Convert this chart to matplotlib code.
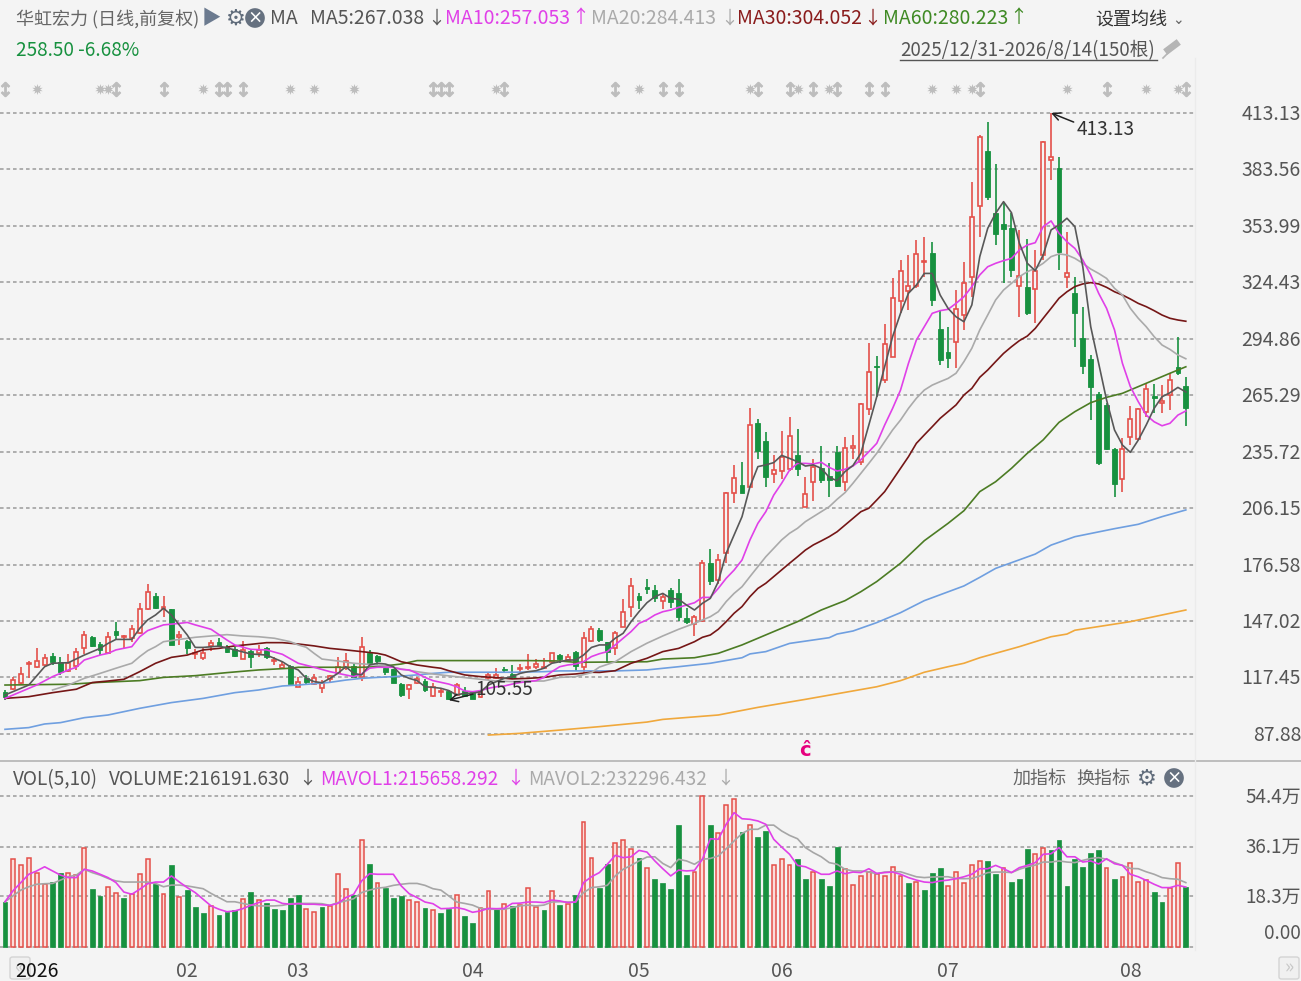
import numpy as np
import matplotlib
matplotlib.use('Agg')
import matplotlib.pyplot as plt
from matplotlib.patches import FancyBboxPatch
from matplotlib.lines import Line2D

FONT = ['Noto Sans CJK SC', 'DejaVu Sans']
plt.rcParams['font.family'] = FONT
plt.rcParams['axes.unicode_minus'] = False

W, H = 1301, 981
BG = '#f4f4f4'
RED = '#e4504a'
PINK = '#fbdcd8'
GREEN = '#17913f'

# daily candles, one value per bar (150 bars)
open_p = [110.0,111.3,114.4,124.5,122.8,124.0,128.9,125.7,121.0,123.5,133.1,138.8,135.0,130.5,142.0,138.5,138.0,140.9,153.3,160.1,
          153.2,153.2,138.8,136.6,129.8,127.5,134.0,136.2,133.6,132.6,127.3,131.5,130.1,132.7,126.1,122.4,123.7,112.7,117.4,114.1,
          111.8,116.5,119.6,122.3,123.5,117.9,130.1,128.7,122.3,121.7,113.9,111.3,114.4,115.8,107.8,110.0,110.6,108.3,110.6,109.7,
          107.1,117.0,117.0,121.7,119.3,121.9,122.3,122.8,122.6,125.7,129.4,126.6,131.0,123.1,136.8,142.3,136.2,132.7,144.1,154.2,
          160.1,164.7,163.3,157.5,163.3,161.9,148.4,145.3,147.2,177.6,168.5,182.5,213.9,218.1,217.4,250.6,241.2,224.2,225.8,226.5,
          234.0,207.0,219.9,227.0,223.0,235.6,220.0,237.7,230.5,257.9,280.6,273.3,285.5,314.8,320.1,322.5,335.1,340.0,299.8,288.1,
          293.4,307.3,327.1,364.6,393.4,360.6,354.8,352.7,322.5,321.8,320.8,338.8,388.5,384.1,327.4,319.0,295.1,284.3,265.9,260.2,
          237.1,221.3,243.6,242.2,256.7,264.9,261.4,265.4,279.9,270.1]
close_p = [107.1,116.1,119.1,124.9,126.3,127.8,125.7,120.5,125.2,131.0,139.5,134.0,131.9,138.8,139.9,139.2,142.7,153.5,162.2,153.7,
           154.6,134.5,139.5,132.7,130.5,130.5,135.7,134.1,130.6,128.7,131.9,128.4,131.9,128.0,126.6,124.0,114.1,115.3,115.3,117.0,
           114.4,118.3,122.8,126.3,117.9,133.3,125.2,126.3,120.5,114.8,108.3,113.5,116.5,110.9,112.3,110.6,106.0,113.5,107.8,106.4,
           110.0,118.8,118.8,121.4,117.5,122.4,122.8,124.5,123.1,130.1,127.1,128.4,123.5,138.0,142.7,137.1,131.0,140.6,151.6,165.6,
           158.1,163.8,158.9,159.8,157.2,149.3,146.7,149.3,177.6,168.2,179.0,214.3,222.1,214.3,249.7,236.1,222.7,226.1,232.8,244.1,
           226.7,213.4,227.5,220.9,220.9,217.8,237.7,238.5,260.7,277.6,279.9,292.0,316.2,330.4,322.5,339.1,335.8,315.2,283.8,284.6,
           310.3,324.3,358.8,400.7,369.0,349.8,352.4,330.9,327.9,308.5,330.5,398.1,389.9,340.1,329.5,308.2,280.8,269.8,229.6,237.1,
           218.8,237.0,252.7,257.9,268.4,263.7,262.3,273.3,276.8,258.5]
high_p = [110.9,117.5,123.1,126.1,132.7,129.8,130.1,128.4,129.6,132.7,142.0,139.2,136.2,141.3,146.7,139.5,145.0,156.3,166.4,161.5,
          160.1,153.2,142.0,137.1,132.2,133.3,137.1,138.3,134.5,133.3,136.4,131.9,134.5,133.3,128.0,125.7,124.0,117.5,118.8,119.1,
          116.1,118.8,128.4,130.1,124.5,138.8,131.9,129.2,123.1,121.7,114.8,113.9,117.9,116.5,114.4,111.3,110.9,114.4,112.7,110.0,
          110.6,120.5,122.3,123.1,124.0,124.5,129.6,127.0,127.8,130.5,129.6,129.6,131.5,141.3,144.4,143.2,136.2,142.0,158.6,169.8,
          161.5,168.9,165.7,161.5,164.3,168.9,154.0,150.2,179.0,184.8,182.3,214.6,228.6,230.3,258.4,253.0,245.9,234.0,246.8,253.7,
          247.4,222.3,231.7,238.9,229.6,238.9,243.6,244.5,261.4,292.8,285.8,302.6,326.9,336.1,338.8,346.6,348.0,345.7,309.9,300.9,
          320.4,335.3,377.2,401.6,408.6,386.4,366.7,360.6,351.9,347.0,341.4,398.6,413.13,389.9,351.0,327.4,311.3,286.4,267.2,261.1,
          237.5,242.7,259.7,258.4,271.5,271.2,270.7,277.1,295.6,275.0]
low_p = [105.7,110.9,114.0,117.0,122.3,123.5,124.0,118.8,120.5,121.4,129.8,133.6,129.2,129.8,137.1,132.7,136.2,140.2,152.8,153.2,
         149.0,134.5,134.5,129.8,127.3,126.6,131.5,133.3,130.1,128.0,127.1,122.3,128.0,127.3,124.0,122.1,114.1,112.3,114.1,113.5,
         109.2,115.3,119.3,121.4,117.5,115.8,124.5,124.0,118.8,114.8,107.4,106.0,114.1,110.0,107.1,107.1,105.55,107.8,107.1,106.0,
         106.7,116.1,116.5,120.0,116.8,120.5,121.4,121.7,122.3,125.2,125.2,126.1,121.0,119.3,136.2,136.2,124.9,129.2,143.7,149.3,
         153.2,161.2,157.2,153.3,154.0,147.2,145.5,139.2,146.7,165.9,166.4,177.6,209.0,213.9,217.1,231.8,217.1,219.2,221.3,225.8,
         223.2,206.6,209.7,219.5,212.2,217.4,215.3,231.9,228.8,254.9,264.6,271.9,285.2,308.2,309.9,321.3,327.4,312.0,281.1,279.7,
         279.7,299.5,316.9,348.4,367.6,344.0,323.9,327.4,306.5,307.3,303.3,336.1,378.0,330.9,321.3,290.7,276.4,252.3,228.8,236.6,
         212.2,214.8,239.2,241.9,254.1,255.8,255.8,257.5,275.9,249.2]

# moving averages at these bars
ma5_x = [0,3,5,6,8,10,12,13,14,16,17,18,19,20,21,22,23,24,25,27,29,31,33,35,36,37] + list(range(38, 150))
ma5 = [108.3,113.5,123.1,124.9,125.2,129.2,132.7,135.3,137.4,137.4,143.2,147.6,150.2,153.7,150.2,144.9,139.7,133.2,133.2,133.9,131.9,129.8,129.2,125.7,123.1,121.4,
       117.0,115.3,114.7,117.0,119.6,123.1,119.6,118.8,124.0,124.9,124.5,123.1,118.8,117.0,115.8,112.6,112.3,111.8,110.6,108.3,109.2,109.2,110.0,113.5,115.3,117.0,117.9,119.6,120.5,121.0,122.3,124.9,125.7,126.6,126.6,129.2,133.2,134.5,
       134.5,138.0,140.6,146.7,151.9,156.6,159.8,161.5,158.9,158.4,155.4,152.8,156.3,158.9,167.6,182.5,192.1,201.7,217.4,227.9,228.8,230.0,233.8,232.2,230.5,228.2,228.8,227.0,222.3,220.5,225.3,228.5,
       234.9,249.7,264.5,280.3,296.0,308.2,318.7,323.0,329.1,329.1,317.8,310.8,306.4,303.8,312.6,337.9,352.7,360.6,366.7,360.9,344.9,334.4,330.5,338.8,351.9,354.5,358.0,353.6,332.6,301.2,282.0,262.8,247.1,239.2,235.4,241.8,249.7,258.4,264.5,266.6,269.4,267.0]
ma10_x = [0,2,4,6,8,9,10,12,13,14,16,17,18,20,22,23,24,26,28,29,31,33,35,37,39,41,43] + list(range(44, 150))
ma10 = [106.5,110.0,113.5,117.9,121.4,122.8,126.6,129.2,130.1,131.9,133.6,138.8,142.0,145.0,145.8,146.3,145.0,142.7,137.1,134.5,132.2,131.9,129.6,124.9,122.8,120.5,118.8,
        117.9,119.3,122.3,122.8,122.8,122.8,121.7,121.4,119.6,117.5,115.8,114.9,114.0,112.6,110.4,110.0,110.6,111.8,112.6,113.0,114.0,114.8,115.3,115.8,117.5,120.5,123.1,124.0,124.5,125.7,128.4,129.9,
        131.0,134.5,138.0,141.5,145.8,147.6,150.2,151.9,152.8,154.2,155.4,156.6,159.4,159.4,164.1,169.4,173.7,179.0,189.5,198.2,204.3,213.0,219.2,226.1,229.6,229.6,229.3,230.2,227.5,225.6,226.5,228.2,
        231.5,235.7,240.1,249.7,258.4,268.0,282.0,294.2,301.2,308.2,309.6,310.3,313.4,316.9,322.2,328.3,332.6,334.4,335.8,337.0,341.4,344.0,345.2,353.6,356.6,350.1,345.7,342.2,336.1,328.3,318.7,310.8,299.5,282.0,269.8,261.9,254.9,251.4,249.3,250.6,254.9,257.05]
ma20_x = [6,8,10,12,14,16,17,18,19,20,22,24,26,28,30,32,34,36,37,38,39,40,42,44,46,48,50,52,54,56,58,60,62,64,66,68,70,72,74,75,77,79,81,83,85,87,89] + list(range(90, 150))
ma20 = [110.9,113.5,117.0,119.6,122.3,124.9,128.4,131.5,133.6,136.2,137.4,138.5,139.2,139.9,139.2,138.8,138.0,136.2,134.5,133.3,130.1,127.1,126.1,124.9,124.3,123.5,121.9,120.5,119.3,118.3,117.4,116.5,115.6,115.3,115.6,115.6,117.5,117.9,120.0,122.9,125.7,131.0,135.4,139.2,142.7,145.8,149.3,
        151.9,157.2,161.5,165.0,170.3,175.5,180.7,185.1,189.5,193.0,195.6,199.1,201.7,204.3,206.9,210.8,214.3,219.2,
        224.4,229.6,234.9,241.0,247.1,252.3,258.4,263.7,268.0,270.6,272.4,274.1,276.8,282.9,289.9,299.5,307.3,315.2,320.4,323.9,327.4,330.0,331.8,334.4,337.9,339.3,338.8,337.0,334.4,331.4,329.1,326.5,321.3,317.8,310.8,305.6,301.2,296.0,291.6,289.3,286.4,284.4]
ma30_x = [0,3,6,9,11,13,15,17,19,21,23,25,27,29,31,33,35,37,39,41,43,45,47,48,49,50,52,54,55,56,58,60,62,64,66,68,70,72,74,75,77,79,81,83,85,87] + list(range(88, 150))
ma30 = [106.5,107.4,109.5,111.3,114.8,115.6,116.5,120.5,124.9,128.0,129.2,131.9,132.7,134.0,134.8,135.7,135.7,135.0,134.0,132.7,131.9,131.0,130.1,129.2,127.5,125.7,124.0,122.8,122.3,121.0,118.8,117.9,117.4,116.7,117.0,117.5,118.8,119.3,120.2,120.1,121.0,124.9,127.5,131.0,132.7,136.2,
        138.5,139.7,142.7,146.7,151.1,154.6,159.8,164.1,166.8,170.3,173.8,177.3,180.7,184.2,186.9,189.0,191.2,193.8,197.3,200.8,204.3,
        206.1,210.4,214.8,220.9,227.0,233.1,240.1,244.5,248.8,253.2,256.7,260.2,265.4,268.9,274.7,278.5,282.9,287.2,290.7,293.9,296.3,300.3,305.6,310.8,316.1,319.5,322.2,323.6,324.3,323.6,321.8,319.5,317.8,315.7,313.4,311.7,309.6,307.3,305.6,304.7,304.05]
ma60_x = [0,8,12,17,20,24,28,32,36,37,41,45,47,50,52,56,61,66,70,72,81,83,87,90,93,95,97,100,103,106,108,110,113,116,119,121,123,125,127,129,131,133,135,137,139,141,143,145,147,149]
ma60 = [113.5,113.9,114.9,115.8,117.5,118.4,120.0,121.4,122.3,122.8,122.8,122.8,123.1,124.5,126.3,126.3,126.3,126.3,126.1,125.4,125.7,127.1,127.8,130.1,134.5,138.0,141.5,146.7,152.8,157.7,162.4,167.7,177.3,189.1,198.2,204.8,214.8,220.0,227.0,234.9,241.9,251.1,256.7,261.4,264.2,266.3,269.8,273.3,276.8,280.2]
ma120_x = [0,3,5,7,10,13,17,21,25,29,32,35,37,41,43,45,47,49,52,54,56,60,64,68,70,77,81,85,89,93,94,96,99,104,105,107,110,113,116,121,123,125,130,132,135,140,143,146,149]
ma120 = [90.3,91.2,93.1,93.8,96.4,97.8,101.3,104.3,106.5,109.5,110.9,113.0,113.5,114.9,116.1,117.0,117.5,117.9,118.8,119.6,120.2,120.2,120.2,120.5,120.9,120.9,121.4,123.1,124.9,127.8,129.8,131.0,135.3,138.3,140.2,141.8,146.2,151.4,157.7,165.4,169.9,174.6,182.1,186.8,191.2,195.4,197.7,201.7,205.2]
ma250_x = [61,65,70,75,81,83,90,95,101,110,113,116,119,121,123,128,132,134,135,142,149]
ma250 = [87.3,88.2,89.9,91.7,94.1,95.5,97.8,101.8,106.0,112.6,115.8,120.2,123.1,124.9,127.8,133.6,138.8,140.2,142.2,146.7,152.8]

# volume in units of 万
vol = [16.3,31.6,29.4,32.0,26.5,22.8,23.4,26.5,26.8,25.9,35.8,20.8,18.4,21.7,19.6,17.5,19.0,26.2,31.6,22.6,
       19.1,29.4,18.1,20.4,14.3,12.2,14.8,11.6,12.7,13.2,17.4,19.8,16.9,16.0,13.8,13.3,17.6,18.7,13.7,12.6,
       14.4,14.8,26.2,20.8,18.6,38.6,30.0,22.9,21.4,17.5,18.4,16.9,16.3,13.9,13.2,12.1,13.6,18.6,11.2,8.5,
       14.2,20.2,14.2,15.4,14.8,15.1,21.4,14.5,13.3,20.2,15.0,15.6,18.6,45.1,32.2,21.4,30.0,37.6,38.6,35.4,
       32.2,28.3,24.6,22.9,20.8,44.0,25.8,27.1,54.4,44.0,40.9,51.0,53.2,41.4,44.0,39.7,41.9,29.4,31.6,29.4,
       31.6,24.6,27.1,24.6,22.0,36.0,28.0,22.3,25.6,27.0,26.2,25.6,28.9,25.6,22.9,23.5,20.4,26.8,28.3,22.0,
       27.1,22.9,29.4,31.0,31.1,26.4,28.3,23.5,24.6,35.4,33.6,35.8,34.8,38.6,21.8,31.6,28.9,33.7,34.8,28.3,
       24.6,25.1,30.4,23.5,24.0,19.7,16.3,21.4,30.4,21.6]
vol_dir = ('grrrrrggrr' 'rggrrgrrrg' 'rgrgggrggg' 'rgrgggggrr' 'grrrgrgrgg'
           'grrgrggrgg' 'rrgrgrrrgr' 'grgrrggrrr' 'grgggggrrg' 'rrrgrggrrr'
           'ggrgggrrrr' 'rrrrgrgggr' 'rrrrggrggg' 'rrgggggggr' 'grrrrggrrg')
mavol1 = [16.3,20.2,23.2,26.2,27.4,28.9,27.4,25.9,25.0,25.0,28.0,27.4,26.2,25.0,23.2,19.8,19.0,20.8,22.8,23.4,
          23.4,25.6,23.4,21.4,19.6,17.2,14.8,13.6,12.7,13.0,13.8,15.0,16.0,16.9,16.9,15.7,15.4,15.6,15.4,15.4,
          15.2,15.0,15.7,17.8,19.0,23.8,26.4,26.2,26.2,26.2,22.0,19.2,17.8,16.2,15.6,13.8,13.9,14.2,13.6,12.5,
          13.0,13.9,13.8,13.9,15.7,15.8,16.2,16.2,16.0,16.9,16.6,16.0,16.2,23.2,25.3,26.8,
          29.8,33.0,32.2,32.5,34.8,34.2,31.0,28.2,25.6,27.7,27.4,27.6,31.6,39.0,38.8,44.2,48.4,46.2,46.0,45.4,
          44.2,38.8,36.0,33.4,29.4,28.9,27.6,26.2,26.2,27.4,26.4,27.0,26.8,28.2,26.5,26.8,27.0,26.2,25.0,24.1,
          23.4,23.2,23.8,24.1,24.6,25.3,26.2,28.2,28.2,29.4,28.2,26.8,28.6,29.4,30.4,33.4,33.6,35.8,32.5,32.5,
          30.6,31.0,29.9,31.8,30.0,29.4,26.2,25.3,24.0,22.6,21.4,21.4,22.2,21.6]
mavol2 = [16.3,18.4,20.5,21.7,22.6,22.8,22.9,24.1,25.3,25.9,28.0,26.8,25.9,24.7,23.8,23.4,23.4,23.4,23.4,22.9,
          21.7,22.3,22.3,22.0,21.5,21.0,19.3,17.8,16.3,16.3,15.7,15.1,14.8,14.8,14.8,15.0,15.6,15.7,15.7,15.7,
          15.6,15.0,16.0,16.6,17.4,19.6,20.5,21.2,21.5,22.2,22.6,22.9,22.9,22.2,21.0,20.5,18.4,16.2,15.7,15.1,
          13.9,13.6,13.6,13.6,14.2,14.8,15.1,14.8,15.1,16.2,16.3,16.2,16.2,19.6,21.4,21.7,
          22.2,25.6,28.0,29.4,31.0,32.4,32.5,30.1,28.6,31.6,31.0,29.8,31.6,31.9,32.8,35.4,38.2,40.9,42.4,42.4,
          43.9,43.9,41.8,40.2,39.0,35.8,34.0,32.5,30.4,29.8,28.0,27.4,27.4,27.0,26.4,27.0,27.1,27.1,26.2,25.3,
          25.0,25.2,25.3,25.3,24.7,24.6,24.7,25.6,26.8,27.0,27.0,26.8,28.0,28.9,29.5,30.6,30.6,31.0,30.6,30.4,
          31.2,31.9,32.2,31.6,30.4,29.4,28.3,28.2,27.1,26.2,25.0,24.6,24.4,23.2]

price_ticks = [413.13,383.56,353.99,324.43,294.86,265.29,235.72,206.15,176.58,147.02,117.45,87.88]
vol_ticks = [54.4,36.1,18.3,0.0]
month_pos = [4,23,37,59,80,98,119,142]
month_labels = ['2026','02','03','04','05','06','07','08']
arrow_bars = [0,14,20,27,28,30,54,55,56,63,77,83,85,95,99,102,105,109,111,123,139,149]
star_bars = [4,12,13,25,36,39,44,62,80,94,100,104,117,120,122,134,144,148]

n = len(open_p)
xs = np.arange(n)
up = np.array(close_p) >= np.array(open_p)

fig = plt.figure(figsize=(W / 100, H / 100), dpi=100, facecolor=BG)


def pxaxes(x0, y0, x1, y1):
    return fig.add_axes([x0 / W, 1 - y1 / H, (x1 - x0) / W, (y1 - y0) / H], facecolor='none')


def label(x, y, s, color='#555555', size=14, ha='left', **kw):
    # the CJK font sits a little high, hence the 1.5
    return fig.text(x / W, 1 - (y + 1.5) / H, s, color=color, fontsize=size, ha=ha, va='center', **kw)


def clean(ax):
    for s in ax.spines.values():
        s.set_visible(False)
    ax.set_yticks([])


XLIM = ((0 - 5) / 7.925, (1196 - 5) / 7.925)

# scroll buttons go first, the 2026 label sits on top of the left one
for x0, s in [(10, '«'), (1279, '»')]:
    fig.add_artist(FancyBboxPatch((x0 / W, 1 - 979 / H), 20 / W, 22 / H, boxstyle='round,pad=0,rounding_size=0.002',
                                  transform=fig.transFigure, fc='#f0f0f0', ec='#d4d4d4', lw=1, zorder=-1))
    t = label(x0 + 10, 966, s, '#c8c8c8', 14, ha='center')
    t.set_zorder(-1)

# price panel
ax = pxaxes(0, 62, 1196, 760)
clean(ax)
ax.set_xlim(*XLIM)
ax.set_xticks([])
ax.set_ylim(413.13 - (760 - 113) * 0.5238, 413.13 + (113 - 62) * 0.5238)
for p in price_ticks:
    ax.axhline(p, color='#a8a8a8', lw=1.3, ls=(0, (2, 1.6)), zorder=1)

ax.vlines(xs[up], np.array(low_p)[up], np.array(high_p)[up], color=RED, lw=1.2, zorder=2)
ax.vlines(xs[~up], np.array(low_p)[~up], np.array(high_p)[~up], color=GREEN, lw=1.2, zorder=2)
body = np.abs(np.array(close_p) - np.array(open_p))
bottom = np.minimum(open_p, close_p)
ax.bar(xs[up], np.maximum(body[up], 0.6), bottom=bottom[up], width=0.5, facecolor=BG, edgecolor=RED, linewidth=1.2, zorder=3)
ax.bar(xs[~up], np.maximum(body[~up], 0.6), bottom=bottom[~up], width=0.6, facecolor=GREEN, edgecolor=GREEN, linewidth=0.6, zorder=3)

ax.plot(ma250_x, ma250, color='#f0a83c', lw=1.2, zorder=4)
ax.plot(ma120_x, ma120, color='#6f9fe0', lw=1.2, zorder=4)
ax.plot(ma60_x, ma60, color='#4c7c24', lw=1.2, zorder=4)
ax.plot(ma30_x, ma30, color='#751616', lw=1.2, zorder=4)
ax.plot(ma20_x, ma20, color='#aaaaaa', lw=1.2, zorder=4)
ax.plot(ma10_x, ma10, color='#e040e8', lw=1.2, zorder=4)
ax.plot(ma5_x, ma5, color='#585858', lw=1.2, zorder=4)

ax.annotate('413.13', xy=(132, 413.13), xytext=(135.2, 404.5), fontsize=13.7, color='#333333', ha='left', va='center',
            arrowprops=dict(arrowstyle='->', color='#222222', lw=1.1, shrinkA=0, shrinkB=0, relpos=(0, 0.8)), zorder=6)
ax.annotate('105.55', xy=(56, 105.55), xytext=(59.4, 111.3), fontsize=13.7, color='#333333', ha='left', va='center',
            arrowprops=dict(arrowstyle='->', color='#222222', lw=1.1, shrinkA=0, shrinkB=0, relpos=(0, 0.3)), zorder=6)

# event markers along the top of the panel
ev = 413.13 + (113 - 89) * 0.5238
ax.scatter(star_bars, [ev] * len(star_bars), marker=(10, 1, 0), s=62, color='#bdbdbd', linewidths=0, zorder=2)
ax.scatter(arrow_bars, [ev] * len(arrow_bars), marker='$\\updownarrow$', s=105, color='#bdbdbd', linewidths=0.8, zorder=2)
ax.text(101, 413.13 + (113 - 750) * 0.5238, 'ĉ', color='#e6007e', fontsize=14, fontweight='bold', ha='center', va='center',
        family='DejaVu Sans')

# volume panel
ax2 = pxaxes(0, 765, 1196, 950)
clean(ax2)
ax2.set_xlim(*XLIM)
ax2.set_ylim((947 - 950) / 2.776, (947 - 765) / 2.776)
for v in vol_ticks:
    ax2.axhline(v, color='#a8a8a8', lw=1.3, ls=(0, (2, 1.6)), zorder=1)
vol_up = np.array([c == 'r' for c in vol_dir])
vol_arr = np.array(vol)
ax2.bar(xs[vol_up], vol_arr[vol_up], width=0.48, facecolor=PINK, edgecolor=RED, linewidth=1.1, zorder=3)
ax2.bar(xs[~vol_up], vol_arr[~vol_up], width=0.6, facecolor=GREEN, edgecolor=GREEN, linewidth=0.5, zorder=3)
ax2.plot(xs, mavol2, color='#a6a6a6', lw=1.2, zorder=4)
ax2.plot(xs, mavol1, color='#e040e8', lw=1.2, zorder=5)
ax2.set_xticks(month_pos)
ax2.set_xticklabels(month_labels, fontsize=14, color='#555555')
ax2.get_xticklabels()[0].set_color('#111111')
ax2.tick_params(axis='x', length=0, pad=8)

# price and volume axis labels
for p in price_ticks:
    label(1301, 113 + (413.13 - p) / 0.5238, '%.2f' % p, ha='right')
label(1301, 796, '54.4万', ha='right', size=13.6)
label(1301, 846, '36.1万', ha='right', size=13.6)
label(1301, 896, '18.3万', ha='right', size=13.6)
label(1301, 932, '0.00', ha='right', size=13.6)

# frame lines
fig.add_artist(Line2D([0, 1], [1 - 761 / H] * 2, color='#b4b4b4', lw=1.2))
fig.add_artist(Line2D([1195 / W] * 2, [1 - 58 / H, 1 - 950 / H], color='#ebebeb', lw=1))

# header rows
label(16, 18, '华虹宏力 (日线,前复权)', '#666666', 13)
label(202, 17, '▶', '#6b7a8f', 14)
label(236, 17, '⚙', '#5f6b7a', 16, ha='center', fontweight='bold')
label(255, 16.5, '×', 'white', 11, ha='center', fontweight='bold',
      bbox=dict(boxstyle='circle,pad=0.12', fc='#667180', ec='none'))
label(270, 17, 'MA')
label(310, 17, 'MA5:267.038')
label(436, 17, '↓', ha='center', size=13)
label(445, 17, 'MA10:257.053', '#e040e8')
label(580, 17, '↑', '#e040e8', ha='center', size=13)
label(591, 17, 'MA20:284.413', '#aaaaaa')
label(729, 17, '↓', '#aaaaaa', ha='center', size=13)
label(737, 17, 'MA30:304.052', '#8a1c1c')
label(872, 17, '↓', '#8a1c1c', ha='center', size=13)
label(883, 17, 'MA60:280.223', '#3f8a24')
label(1018, 17, '↑', '#3f8a24', ha='center', size=13)
label(1095, 18, '设置均线', '#333333', 13)
label(1172, 18, '⌄', '#666666', 10)
label(16, 49, '258.50 -6.68%', '#17913f', 13.7)
label(900, 49, '2025/12/31-2026/8/14(150根)', '#555555', 13.5)
fig.add_artist(Line2D([900 / W, 1157 / W], [1 - 60 / H] * 2, color='#555555', lw=1))
# pin icon
fig.add_artist(Line2D([1163 / W, 1170 / W], [1 - 58 / H, 1 - 51 / H], color='#b5b5b5', lw=1.2))
fig.add_artist(Line2D([1168 / W, 1176 / W], [1 - 50 / H, 1 - 44 / H], color='#b5b5b5', lw=5))

label(13, 778, 'VOL(5,10)', size=13.7)
label(109, 778, 'VOLUME:216191.630', size=13.7)
label(307, 777, '↓', ha='center', size=13)
label(320, 778, 'MAVOL1:215658.292', '#e040e8', 13.7)
label(515, 777, '↓', '#e040e8', ha='center', size=13)
label(528, 778, 'MAVOL2:232296.432', '#aaaaaa', 13.7)
label(725, 777, '↓', '#aaaaaa', ha='center', size=13)
label(1013, 777, '加指标', '#666666', 13)
label(1076, 777, '换指标', '#666666', 13)
label(1147, 777, '⚙', '#5f6b7a', 16, ha='center', fontweight='bold')
label(1174, 776.5, '×', 'white', 11, ha='center', fontweight='bold',
      bbox=dict(boxstyle='circle,pad=0.12', fc='#667180', ec='none'))

fig.savefig('out.png', dpi=100, facecolor=BG)
